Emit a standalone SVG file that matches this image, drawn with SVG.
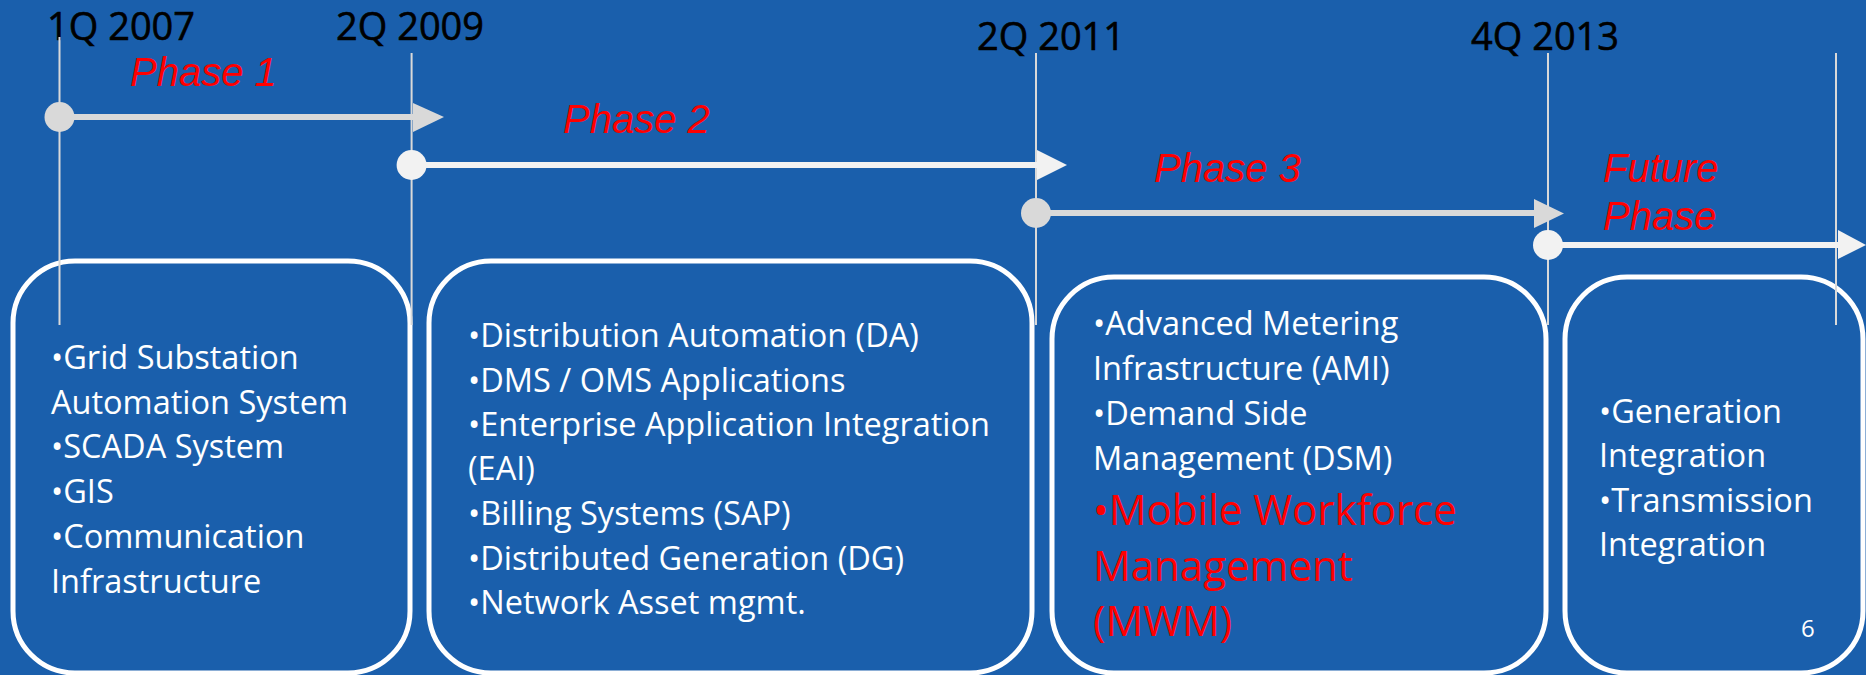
<svg xmlns="http://www.w3.org/2000/svg" width="1866" height="675" viewBox="0 0 1866 675">
<style>
.bg{fill:#1a5fac}
.box{fill:none;stroke:#ffffff;stroke-width:5}
.date{font-family:"Open Sans","Liberation Sans",sans-serif;font-size:38px;fill:#000000;stroke:#000000;stroke-width:0.6}
.phase{font-family:"Liberation Sans",Arial,sans-serif;font-style:italic;font-size:40px;fill:#ff0000}
.body{font-family:"Open Sans","Liberation Sans",sans-serif;font-size:32.5px;fill:#ffffff}
.red{font-family:"Open Sans","Liberation Sans",sans-serif;font-size:42px;fill:#ff0000}
.vline{stroke:#d9d9d9;stroke-width:2}
.g1{fill:#d9d9d9;stroke:#d9d9d9}
.g2{fill:#f2f2f2;stroke:#f2f2f2}
.pn{font-family:"Open Sans","Liberation Sans",sans-serif;font-size:24px;fill:#ffffff}
</style>
<rect class="bg" x="0" y="0" width="1866" height="675"/>

<g id="box-phase1">
<rect class="box" x="13" y="261" width="397" height="412" rx="62" ry="62"/>
<text class="body" x="51" y="369">•Grid Substation</text>
<text class="body" x="51" y="414">Automation System</text>
<text class="body" x="51" y="458">•SCADA System</text>
<text class="body" x="51" y="503">•GIS</text>
<text class="body" x="51" y="548">•Communication</text>
<text class="body" x="51" y="593">Infrastructure</text>
</g>

<g id="box-phase2">
<rect class="box" x="429" y="261" width="603" height="412" rx="62" ry="62"/>
<text class="body" x="468" y="347">•Distribution Automation (DA)</text>
<text class="body" x="468" y="392">•DMS / OMS Applications</text>
<text class="body" x="468" y="436">•Enterprise Application Integration</text>
<text class="body" x="468" y="480">(EAI)</text>
<text class="body" x="468" y="525">•Billing Systems (SAP)</text>
<text class="body" x="468" y="570">•Distributed Generation (DG)</text>
<text class="body" x="468" y="614">•Network Asset mgmt.</text>
</g>

<g id="box-phase3">
<rect class="box" x="1052" y="277" width="494" height="396" rx="62" ry="62"/>
<text class="body" x="1093" y="335">•Advanced Metering</text>
<text class="body" x="1093" y="380">Infrastructure (AMI)</text>
<text class="body" x="1093" y="425">•Demand Side</text>
<text class="body" x="1093" y="470">Management (DSM)</text>
<text class="red" x="1093" y="525">•Mobile Workforce</text>
<text class="red" x="1093" y="581">Management</text>
<text class="red" x="1093" y="636">(MWM)</text>
</g>

<g id="box-future">
<rect class="box" x="1565" y="277" width="298" height="396" rx="62" ry="62"/>
<text class="body" x="1599" y="423">•Generation</text>
<text class="body" x="1599" y="467">Integration</text>
<text class="body" x="1599" y="512">•Transmission</text>
<text class="body" x="1599" y="556">Integration</text>
<text class="pn" x="1801" y="637">6</text>
</g>

<g id="dates">
<text class="date" x="47" y="40">1Q 2007</text>
<text class="date" x="336" y="40">2Q 2009</text>
<text class="date" x="977" y="50">2Q 2011</text>
<text class="date" x="1471" y="50">4Q 2013</text>
</g>

<g id="phase-labels">
<text class="phase" x="130" y="86">Phase 1</text>
<text class="phase" x="563" y="133">Phase 2</text>
<text class="phase" x="1154" y="182">Phase 3</text>
<text class="phase" x="1603" y="182">Future</text>
<text class="phase" x="1603" y="230">Phase</text>
</g>

<g id="connectors">
<line class="vline" x1="59.5" y1="37" x2="59.5" y2="325"/>
<line class="vline" x1="411.6" y1="53" x2="411.6" y2="325"/>
<line class="vline" x1="1036" y1="53" x2="1036" y2="325"/>
<line class="vline" x1="1548" y1="53" x2="1548" y2="325"/>
<line class="vline" x1="1836" y1="53" x2="1836" y2="325"/>

<line class="g1" x1="59.5" y1="117" x2="414" y2="117" stroke-width="6"/>
<polygon class="g1" stroke-width="0" points="413,103 444,117 413,132"/>
<circle class="g1" stroke-width="0" cx="59.5" cy="117" r="15"/>

<line class="g2" x1="411.6" y1="165" x2="1038" y2="165" stroke-width="6"/>
<polygon class="g2" stroke-width="0" points="1037,150 1067,165 1037,180"/>
<circle class="g2" stroke-width="0" cx="411.6" cy="165" r="15"/>

<line class="g1" x1="1036" y1="213" x2="1535" y2="213" stroke-width="6"/>
<polygon class="g1" stroke-width="0" points="1534,199 1564,213.5 1534,228"/>
<circle class="g1" stroke-width="0" cx="1036" cy="213" r="15"/>

<line class="g2" x1="1548" y1="245" x2="1839" y2="245" stroke-width="6"/>
<polygon class="g2" stroke-width="0" points="1838,230 1866,245 1838,259"/>
<circle class="g2" stroke-width="0" cx="1548" cy="245" r="15"/>
</g>
</svg>
